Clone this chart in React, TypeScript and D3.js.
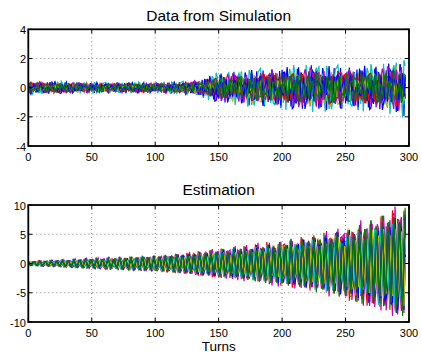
import React from "react";
import * as d3 from "d3";

// ---- data ----
const TURNS_MAX = 297;
const X_TICKS = [0, 50, 100, 150, 200, 250, 300];
const Y_TICKS_TOP = [-4, -2, 0, 2, 4];
const Y_TICKS_BOT = [-10, -5, 0, 5, 10];

// envelope of the simulated data (typical amplitude) at knots
const ENV_TOP_TURNS = [0, 25, 50, 75, 100, 120, 135, 150, 175, 200, 225, 250, 275, 297];
const ENV_TOP_VALUES = [0.32, 0.28, 0.25, 0.25, 0.25, 0.28, 0.4, 0.7, 0.85, 0.95, 1.1, 1.0, 1.05, 1.35];

// envelope of the estimation at knots
const ENV_BOT_TURNS = [0, 25, 50, 75, 100, 125, 150, 175, 200, 225, 250, 275, 297];
const ENV_BOT_VALUES = [0.35, 0.55, 0.8, 1.0, 1.3, 1.8, 2.4, 3.0, 3.8, 4.8, 6.0, 7.6, 9.6];

// hand-typed irregular sequence used for the noisy simulated traces
const NOISE = [0.62, -0.41, 0.88, -0.95, 0.13, 0.47, -0.72, 0.35, -0.18, 0.91, -0.56, 0.04, -0.83, 0.69, -0.27, 0.52, -0.99, 0.21, 0.76, -0.38, -0.64, 0.97, -0.09, 0.43, -0.87, 0.58, -0.15, 0.31, -0.71, 0.84, -0.46, 0.09, 0.66, -0.92, 0.27, -0.53, 0.79, -0.22, 0.41, -0.78, 0.94, -0.34, 0.16, -0.61, 0.73, -0.05, -0.89, 0.55, -0.29, 0.82, -0.48, 0.24, -0.97, 0.37, 0.6, -0.68, 0.11, -0.43, 0.86, -0.2, 0.5];

// one cycle pattern of the estimated oscillation (two periods over nine turns)
const OSC = [1, 0.17, -0.94, -0.5, 0.77, 0.77, -0.5, -0.94, 0.17];

// per-trace parameters (16 traces)
const TOP_AMP = [1.5, 0.7, 1.0, 1.6, 0.8, 1.2, 0.6, 1.45, 0.75, 1.05, 0.9, 1.3, 0.65, 1.1, 0.85, 0.95];
const TOP_STEP = [1, 7, 3, 11, 5, 13, 2, 17, 9, 19, 4, 23, 6, 29, 8, 31];
const TOP_OFF = [0, 12, 25, 40, 7, 33, 51, 18, 3, 44, 27, 58, 9, 36, 21, 48];
const BOT_AMP = [0.9, 0.8, 0.97, 0.75, 1.0, 0.92, 0.7, 0.85, 0.95, 0.78, 0.88, 0.82, 0.72, 0.9, 0.76, 0.8];
const BOT_PHASE = [0, 0, 1, 0, 8, 0, 1, 8, 0, 0, 1, 0, 8, 0, 0, 0];

const COLORS = ["#0000ff", "#008000", "#ff0000", "#00bfbf", "#bf00bf", "#bfbf00", "#404040"];

const W = 421;
const H = 352;
const X0 = 28.3;
const X1 = 409;
const TOP = { y0: 29.3, y1: 146 };
const BOT = { y0: 205, y1: 322 };
const FONT = "'Liberation Sans', Arial, Helvetica, sans-serif";

const turns = d3.range(0, TURNS_MAX + 1);
const envTop = d3.scaleLinear().domain(ENV_TOP_TURNS).range(ENV_TOP_VALUES);
const envBot = d3.scaleLinear().domain(ENV_BOT_TURNS).range(ENV_BOT_VALUES);

const topSeries = TOP_AMP.map((a, s) =>
  turns.map((t) => envTop(t) * a * NOISE[(t * TOP_STEP[s] + TOP_OFF[s]) % NOISE.length])
);
const botSeries = BOT_AMP.map((a, s) =>
  turns.map(
    (t) =>
      envBot(t) * a * (OSC[(t + BOT_PHASE[s]) % OSC.length] + 0.12 * NOISE[(t * TOP_STEP[s] + TOP_OFF[s]) % NOISE.length])
  )
);

function Panel({ y0, y1, yDomain, yTicks, series, title, titleY }: any) {
  const x = d3.scaleLinear().domain([0, 300]).range([X0, X1]);
  const y = d3.scaleLinear().domain(yDomain).range([y1, y0]);
  const line = d3
    .line<number>()
    .x((_, i) => x(turns[i]))
    .y((v) => y(v));
  const clipId = "clip" + Math.round(y0);
  return (
    <g>
      <defs>
        <clipPath id={clipId}>
          <rect x={X0} y={y0} width={X1 - X0} height={y1 - y0} />
        </clipPath>
      </defs>
      {X_TICKS.slice(1, -1).map((t) => (
        <line key={"gx" + t} x1={x(t)} x2={x(t)} y1={y0} y2={y1} stroke="#000" strokeWidth={0.8} strokeDasharray="1,3" opacity={0.6} />
      ))}
      {yTicks.slice(1, -1).map((t: number) => (
        <line key={"gy" + t} x1={X0} x2={X1} y1={y(t)} y2={y(t)} stroke="#000" strokeWidth={0.8} strokeDasharray="1,3" opacity={0.6} />
      ))}
      <g clipPath={`url(#${clipId})`}>
        {series.map((d: number[], i: number) => (
          <path key={i} d={line(d) || ""} fill="none" stroke={COLORS[i % COLORS.length]} strokeWidth={1.2} />
        ))}
      </g>
      {X_TICKS.map((t) => (
        <g key={"tx" + t}>
          <line x1={x(t)} x2={x(t)} y1={y1} y2={y1 - 4} stroke="#000" strokeWidth={1} />
          <line x1={x(t)} x2={x(t)} y1={y0} y2={y0 + 4} stroke="#000" strokeWidth={1} />
          <text x={x(t)} y={y1 + 15} textAnchor="middle" fontSize={11} fontFamily={FONT} fill="#000">
            {t}
          </text>
        </g>
      ))}
      {yTicks.map((t: number) => (
        <g key={"ty" + t}>
          <line x1={X0} x2={X0 + 4} y1={y(t)} y2={y(t)} stroke="#000" strokeWidth={1} />
          <line x1={X1} x2={X1 - 4} y1={y(t)} y2={y(t)} stroke="#000" strokeWidth={1} />
          <text x={26} y={y(t) + 4.5} textAnchor="end" fontSize={11} fontFamily={FONT} fill="#000">
            {t}
          </text>
        </g>
      ))}
      <rect x={X0} y={y0} width={X1 - X0} height={y1 - y0} fill="none" stroke="#000" strokeWidth={1.8} />
      <text x={(X0 + X1) / 2} y={titleY} textAnchor="middle" fontSize={15.5} fontFamily={FONT} fill="#000">
        {title}
      </text>
    </g>
  );
}

export default function App() {
  return (
    <svg width={W} height={H} style={{ position: "absolute", left: 0, top: 0, background: "#fff" }}>
      <rect width={W} height={H} fill="#fff" />
      <Panel y0={TOP.y0} y1={TOP.y1} yDomain={[-4, 4]} yTicks={Y_TICKS_TOP} series={topSeries} title="Data from Simulation" titleY={21} />
      <Panel y0={BOT.y0} y1={BOT.y1} yDomain={[-10, 10]} yTicks={Y_TICKS_BOT} series={botSeries} title="Estimation" titleY={195} />
      <text x={(X0 + X1) / 2} y={350.5} textAnchor="middle" fontSize={13.5} fontFamily={FONT} fill="#000">
        Turns
      </text>
    </svg>
  );
}
